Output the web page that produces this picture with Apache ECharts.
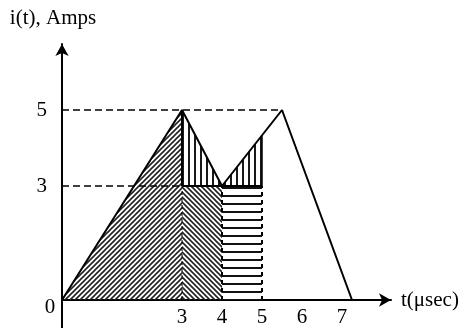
<!DOCTYPE html>
<html><head><meta charset="utf-8">
<script src="https://cdn.jsdelivr.net/npm/echarts@6/dist/echarts.min.js"></script>
<style>html,body{margin:0;padding:0;background:#fff}#c{width:462px;height:328px}</style>
</head><body><div id="c"></div>
<script>
// ---- data ----
const waveT = [0, 3, 4, 5.5, 7.25];
const waveI = [0, 5, 3, 5, 0];
const xTickLabels = [3, 4, 5, 6, 7];
const yTickLabels = [3, 5];
const refLevels = [5, 3];          // dashed guide levels
const refLevelEnds = [5.5, 3];     // t where each dashed guide ends
const regionA = [[0, 0], [3, 5], [3, 0]];
const regionB = [[3, 0], [3, 3], [4, 3], [4, 0]];
const regionC = [[3, 3], [3, 5], [4, 3]];
const regionD = [[4, 0], [4, 3], [5, 3], [5, 0]];
const regionE = [[4, 3], [5, 4.33], [5, 3]];
const regions = [regionA, regionB, regionC, regionD, regionE];
const regionHatch = ['/', '\\', '|', '-', '|'];
const dashedBounds = [3, 4, 5];    // t of dashed verticals from 0 to 3
const dashedBoundTop = 3;
const yAxisTail = -0.74;           // y axis line continues below the origin

const FONT = 'Liberation Serif';

function makeHatch(kind, s, lw, color) {
  const c = document.createElement('canvas');
  c.width = s; c.height = s;
  const g = c.getContext('2d');
  g.strokeStyle = color; g.lineWidth = lw; g.beginPath();
  if (kind === '/') {
    [0, s, 2 * s].forEach(k => { g.moveTo(-s, k + s); g.lineTo(2 * s, k - 2 * s); });
  } else if (kind === '\\') {
    [-s, 0, s].forEach(k => { g.moveTo(-s, -s - k); g.lineTo(2 * s, 2 * s - k); });
  } else if (kind === '|') {
    g.moveTo(s / 2, 0); g.lineTo(s / 2, s);
  } else {
    g.moveTo(0, s / 2); g.lineTo(s, s / 2);
  }
  g.stroke();
  return { image: c, repeat: 'repeat', imageWidth: s, imageHeight: s };
}
const hatchStyles = {
  '/': makeHatch('/', 5, 1.6, '#222'),
  '\\': makeHatch('\\', 5, 1.6, '#222'),
  '|': makeHatch('|', 6, 1.8, '#000'),
  '-': makeHatch('-', 8, 2, '#111')
};

function seg(points, width, dash) {
  return {
    type: 'line', data: points, symbol: 'none', silent: true, z: 5, clip: false,
    lineStyle: { color: '#000', width: width, type: dash || 'solid' }
  };
}

const series = [];
series.push({
  type: 'custom', z: 1, silent: true,
  data: regions.map((r, i) => [i, 0]),
  renderItem: function (params, api) {
    const idx = api.value(0);
    const pts = regions[idx].map(p => api.coord(p));
    return { type: 'polygon', shape: { points: pts }, style: { fill: hatchStyles[regionHatch[idx]], stroke: null } };
  }
});
// waveform
series.push({
  type: 'line', data: waveT.map((t, i) => [t, waveI[i]]), symbol: 'none', z: 6, silent: true,
  lineStyle: { color: '#000', width: 2 },
  markPoint: {
    symbol: 'rect', symbolSize: 1, itemStyle: { color: 'rgba(0,0,0,0)' },
    data: [{ coord: [0, 0], value: 0 }],
    label: { show: true, formatter: '0', offset: [-12, 7], color: '#000', fontSize: 21, fontFamily: FONT }
  }
});
// y axis tail below origin
series.push(seg([[0, 0], [0, yAxisTail]], 2));
// dashed guide levels
refLevels.forEach((lv, i) => series.push(seg([[0, lv], [refLevelEnds[i], lv]], 1.5, [7, 4])));
// dashed vertical boundaries
dashedBounds.forEach(t => series.push(seg([[t, 0], [t, dashedBoundTop]], t === 3 ? 1 : 2, t === 3 ? [4, 3] : [4, 4])));
// solid borders of the small triangles
series.push(seg([regionB[1], regionD[2]], 2));
series.push(seg([regionC[0], regionC[1]], 2));
series.push(seg([regionE[2], regionE[1]], 1.5));

const chart = echarts.init(document.getElementById('c'), null, { renderer: 'canvas' });
chart.setOption({
  animation: false,
  backgroundColor: '#fff',
  grid: { left: 62, right: 71, top: 44, bottom: 28, containLabel: false, outerBoundsMode: 'none' },
  xAxis: {
    type: 'value', min: 0, max: 8.225,
    name: 't(\u03bcsec)', nameLocation: 'end', nameGap: 10,
    nameTextStyle: { color: '#000', fontSize: 21, fontFamily: FONT, align: 'left', verticalAlign: 'middle' },
    axisLine: { lineStyle: { color: '#000', width: 2 }, symbol: ['none', 'arrow'], symbolSize: [10, 12] },
    axisTick: { show: false },
    splitLine: { show: false },
    axisLabel: { customValues: xTickLabels, margin: 8, lineHeight: 18, color: '#000', fontSize: 21, fontFamily: FONT }
  },
  yAxis: {
    type: 'value', min: 0, max: 6.737,
    name: 'i(t), Amps', nameLocation: 'end', nameGap: 15,
    nameTextStyle: { color: '#000', fontSize: 21, fontFamily: FONT, align: 'center', padding: [0, 18, 0, 0] },
    axisLine: { lineStyle: { color: '#000', width: 2 }, symbol: ['none', 'arrow'], symbolSize: [10, 12] },
    axisTick: { show: false },
    splitLine: { show: false },
    axisLabel: { customValues: yTickLabels, margin: 15, color: '#000', fontSize: 21, fontFamily: FONT }
  },
  series: series
});
</script></body></html>
